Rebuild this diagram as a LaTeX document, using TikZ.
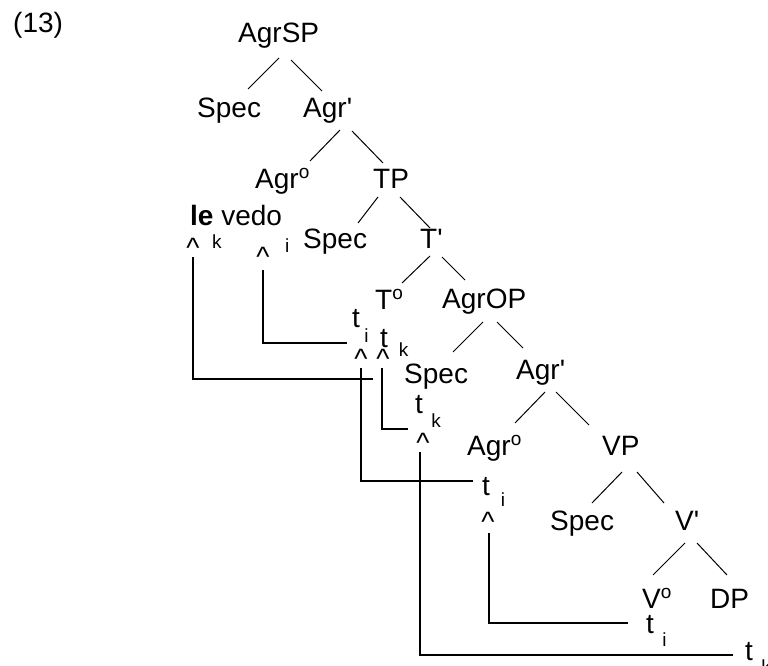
\documentclass[tikz,border=0pt]{standalone}
\usepackage{fontspec}
\setmainfont{Liberation Sans}
\usetikzlibrary{positioning}
\newcommand{\headsup}{\raisebox{10pt}{\fontsize{19}{19}\selectfont o}}
\newcommand{\tracemark}[3]{t\hspace{#2}\raisebox{-#3}{\fontsize{19}{19}\selectfont #1}}
\newcommand{\bartick}{\textquotesingle}

\begin{document}
\begin{tikzpicture}[x=1pt,y=-1pt,
  lab/.style={anchor=base west,inner sep=0pt,font=\fontsize{28}{32}\selectfont},
  idx/.style={anchor=base west,inner sep=0pt,font=\fontsize{19}{19}\selectfont},
  hat/.style={anchor=north,inner sep=0pt,font=\fontsize{28}{32}\selectfont},
  br/.style={line width=1pt},
  mv/.style={line width=1.6pt}]
 \useasboundingbox (0,0) rectangle (768,666);
 % labels of the tree
 \node[lab] (ex) at (13,33) {(13)};
 \node[lab] (AgrSP) at (238,43) {AgrSP};
 \node[lab] (Spec1) at (197,118) {Spec};
 \node[lab] (AgrA) at (303,118) {Agr\bartick};
 \node[lab] (AgrB) at (255,188) {Agr\headsup};
 \node[lab] (TP) at (373,188) {TP};
 \node[lab] (levedo) at (190,225) {\textbf{le} vedo};
 \node[lab] (Spec2) at (303,248) {Spec};
 \node[lab] (Tbar) at (420,248) {T\bartick};
 \node[lab] (Tzero) at (375,309) {T\headsup};
 \node[lab] (AgrOP) at (442,308) {AgrOP};
 \node[lab] (Spec3) at (404,383) {Spec};
 \node[lab] (AgrC) at (516,379) {Agr\bartick};
 \node[lab] (AgrD) at (467,455) {Agr\headsup};
 \node[lab] (VP) at (602,455) {VP};
 \node[lab] (Spec4) at (550,530) {Spec};
 \node[lab] (Vbar) at (675,530) {V\bartick};
 \node[lab] (Vzero) at (642,608) {V\headsup};
 \node[lab] (DP) at (710,608) {DP};
 % traces and carets
 \node[lab] (ti1) at (352,327) {\tracemark{i}{4.5pt}{15pt}};
 \node[lab] (tk1) at (380,347) {\tracemark{k}{11pt}{9pt}};
 \node[lab] (tk2) at (415,413) {\tracemark{k}{8.5pt}{14pt}};
 \node[lab] (ti2) at (482,495) {\tracemark{i}{11pt}{11pt}};
 \node[lab] (ti3) at (646,633) {\tracemark{i}{8.5pt}{13pt}};
 \node[lab] (tk3) at (745,660) {\tracemark{k}{8.5pt}{13pt}};
 \node[hat] (hk0) at (193,238) {\textasciicircum};
 \node[idx] (ik0) at (212,248) {k};
 \node[hat] (hi0) at (263,247) {\textasciicircum};
 \node[idx] (ii0) at (285,252) {i};
 \node[hat] (hi1) at (361,349) {\textasciicircum};
 \node[hat] (hk1) at (383,349) {\textasciicircum};
 \node[hat] (hk2) at (423,433) {\textasciicircum};
 \node[hat] (hi2) at (488,512) {\textasciicircum};
 % branches
 \draw[br] ([shift={(41,15)}]AgrSP.base west) -- ([shift={(51,-29)}]Spec1.base west);
 \draw[br] ([shift={(53,17)}]AgrSP.base west) -- ([shift={(19,-27)}]AgrA.base west);
 \draw[br] ([shift={(37,12)}]AgrA.base west) -- ([shift={(55,-27)}]AgrB.base west);
 \draw[br] ([shift={(49,13)}]AgrA.base west) -- ([shift={(10,-25)}]TP.base west);
 \draw[br] ([shift={(5,9)}]TP.base west) -- ([shift={(55,-25)}]Spec2.base west);
 \draw[br] ([shift={(27,9)}]TP.base west) -- ([shift={(10,-20)}]Tbar.base west);
 \draw[br] ([shift={(10,8)}]Tbar.base west) -- ([shift={(27,-26)}]Tzero.base west);
 \draw[br] ([shift={(22,9)}]Tbar.base west) -- ([shift={(23,-28)}]AgrOP.base west);
 \draw[br] ([shift={(41,14)}]AgrOP.base west) -- ([shift={(49,-31)}]Spec3.base west);
 \draw[br] ([shift={(55,14)}]AgrOP.base west) -- ([shift={(7,-31)}]AgrC.base west);
 \draw[br] ([shift={(29,13)}]AgrC.base west) -- ([shift={(48,-32)}]AgrD.base west);
 \draw[br] ([shift={(40,13)}]AgrC.base west) -- ([shift={(-13,-30)}]VP.base west);
 \draw[br] ([shift={(20,17)}]VP.base west) -- ([shift={(42,-27)}]Spec4.base west);
 \draw[br] ([shift={(35,17)}]VP.base west) -- ([shift={(-11,-27)}]Vbar.base west);
 \draw[br] ([shift={(10,13)}]Vbar.base west) -- ([shift={(11,-33)}]Vzero.base west);
 \draw[br] ([shift={(22,13)}]Vbar.base west) -- ([shift={(17,-33)}]DP.base west);
 % movement
 \draw[mv] ([shift={(0,23)}]hi0.north) |- ([shift={(-5,16)}]ti1.base west);
 \draw[mv] ([shift={(0,19)}]hk0.north) |- ([shift={(-7,32)}]tk1.base west);
 \draw[mv] ([shift={(0,19)}]hi1.north) |- ([shift={(-9,-14)}]ti2.base west);
 \draw[mv] ([shift={(-1,19)}]hk1.north) |- ([shift={(-7,16)}]tk2.base west);
 \draw[mv] ([shift={(-3,19)}]hk2.north) |- ([shift={(-12,-5)}]tk3.base west);
 \draw[mv] ([shift={(1,21)}]hi2.north) |- ([shift={(-18,-10)}]ti3.base west);
\end{tikzpicture}
\end{document}
